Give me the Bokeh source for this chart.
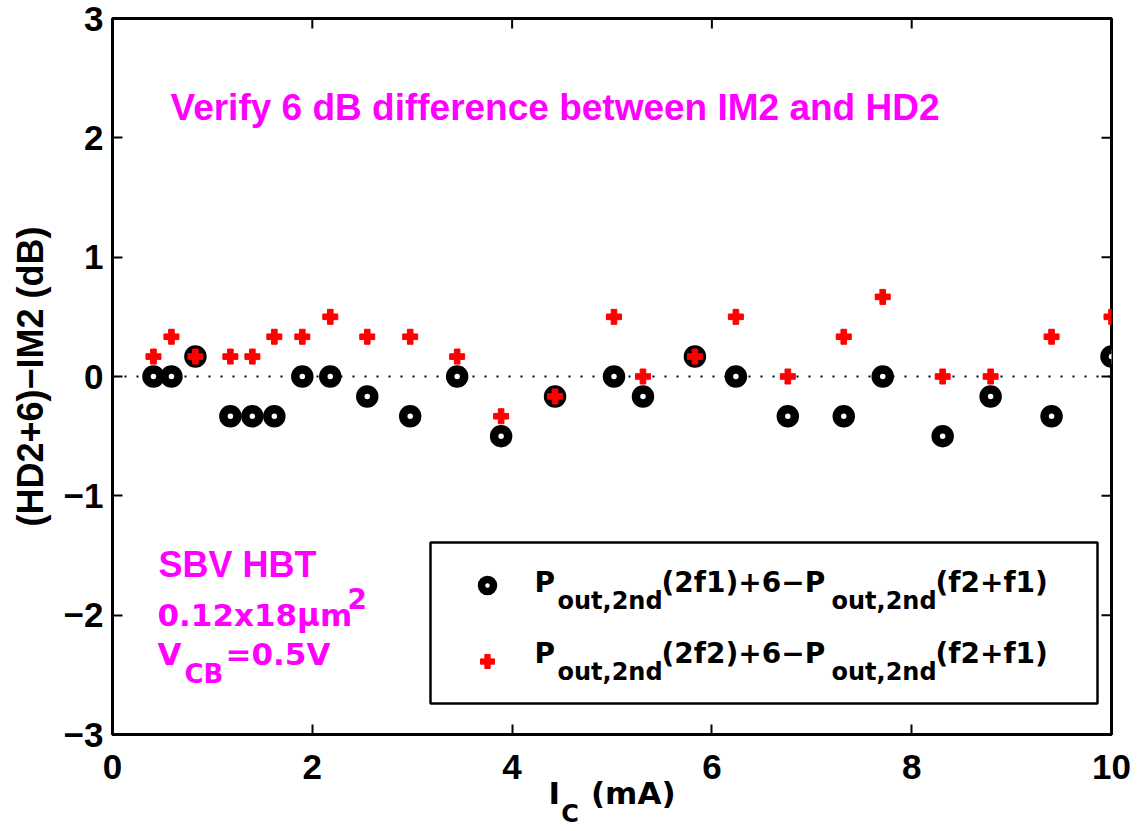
from bokeh.plotting import figure
from bokeh.models import (ColumnDataSource, Label, BoxAnnotation, Span, LinearAxis,
                          FixedTicker, Range1d)
from bokeh.embed import file_html
from bokeh.resources import INLINE

# ---------------- data ----------------
ic_ma = [0.41, 0.59, 0.83, 1.18, 1.40, 1.62, 1.90, 2.18, 2.55, 2.98, 3.45, 3.89,
         4.43, 5.02, 5.31, 5.83, 6.24, 6.76, 7.32, 7.71, 8.31, 8.79, 9.40, 10.0]
diff_2f1 = [0.0, 0.0, 0.167, -0.333, -0.333, -0.333, 0.0, 0.0, -0.167, -0.333, 0.0, -0.5,
            -0.167, 0.0, -0.167, 0.167, 0.0, -0.333, -0.333, 0.0, -0.5, -0.167, -0.333, 0.167]
diff_2f2 = [0.167, 0.333, 0.167, 0.167, 0.167, 0.333, 0.333, 0.5, 0.333, 0.333, 0.167, -0.333,
            -0.167, 0.5, 0.0, 0.167, 0.5, 0.0, 0.333, 0.667, 0.0, 0.0, 0.333, 0.5]
x_ticks = [0, 2, 4, 6, 8, 10]
y_ticks = [-3, -2, -1, 0, 1, 2, 3]
y_tick_labels = {-3: "\u22123", -2: "\u22122", -1: "\u22121", 0: "0", 1: "1", 2: "2", 3: "3"}

# ---------------- layout constants (pixels) ----------------
W, H = 1137, 831
F_LEFT, F_RIGHT, F_TOP, F_BOTTOM = 112, 1111, 18, 734
X0, X1, Y0, Y1 = 0, 10, -3, 3
TICK_PX = 10


def dx(px):
    return X0 + (px - F_LEFT) * (X1 - X0) / (F_RIGHT - F_LEFT)


def dy(py):
    return Y1 - (py - F_TOP) * (Y1 - Y0) / (F_BOTTOM - F_TOP)


ARIAL = "Liberation Sans"
TEXF = "DejaVu Sans"
MAGENTA = "#FF00FF"

p = figure(width=W, height=H, x_range=Range1d(X0, X1), y_range=Range1d(Y0, Y1),
           output_backend="svg", toolbar_location=None,
           min_border_left=F_LEFT, min_border_right=W - F_RIGHT,
           min_border_top=F_TOP, min_border_bottom=H - F_BOTTOM)
p.background_fill_color = "white"
p.border_fill_color = "white"
p.outline_line_color = "black"
p.outline_line_width = 3
p.grid.visible = False

# axes
for ax in (p.xaxis[0], p.yaxis[0]):
    ax.axis_line_width = 3
    ax.major_tick_line_width = 2
    ax.major_tick_in = TICK_PX
    ax.major_tick_out = 0
    ax.minor_tick_line_color = None
    ax.major_label_text_font = ARIAL
    ax.major_label_text_font_style = "bold"
    ax.major_label_text_font_size = "35px"
    ax.major_label_text_color = "black"
xa = p.xaxis[0]
xa.ticker = FixedTicker(ticks=x_ticks)
xa.major_label_standoff = 20
# x-axis label "I_C (mA)": main part here, the subscript on a second bare axis below
xa.axis_label = "I\u2002\u2002(mA)"
xa.axis_label_text_font = TEXF
xa.axis_label_text_font_style = "bold"
xa.axis_label_text_font_size = "31px"
xa.axis_label_text_color = "black"
xa.axis_label_standoff = -7

sub_ax = LinearAxis(ticker=FixedTicker(ticks=[]), axis_line_color=None,
                    major_tick_line_color=None, minor_tick_line_color=None,
                    major_label_standoff=0, major_tick_out=0, minor_tick_out=0,
                    axis_label="C\u2003\u2003\u2003\u2002",
                    axis_label_text_font=TEXF, axis_label_text_font_style="bold",
                    axis_label_text_font_size="24px", axis_label_text_color="black",
                    axis_label_standoff=-14)
p.add_layout(sub_ax, "below")

ya = p.yaxis[0]
ya.ticker = FixedTicker(ticks=y_ticks)
ya.major_label_overrides = y_tick_labels
ya.major_label_standoff = 9
ya.axis_label = "(HD2+6)\u2212IM2 (dB)"
ya.axis_label_text_font = ARIAL
ya.axis_label_text_font_style = "bold"
ya.axis_label_text_font_size = "36px"
ya.axis_label_text_color = "black"
ya.axis_label_standoff = 10

# inward ticks on the top and right edges of the box
tx = (X1 - X0) * TICK_PX / (F_RIGHT - F_LEFT)
ty = (Y1 - Y0) * TICK_PX / (F_BOTTOM - F_TOP)
p.segment(x0=x_ticks, y0=[Y1] * len(x_ticks), x1=x_ticks, y1=[Y1 - ty] * len(x_ticks),
          line_color="black", line_width=2)
p.segment(x0=[X1] * len(y_ticks), y0=y_ticks, x1=[X1 - tx] * len(y_ticks), y1=y_ticks,
          line_color="black", line_width=2)

# zero reference line
p.add_layout(Span(location=0, dimension="width", line_color="black",
                  line_dash="2 10", line_width=2, level="underlay"))

# legend box (underlay so keys sit on top)
p.add_layout(BoxAnnotation(left=dx(430), right=dx(1097), top=dy(542), bottom=dy(703),
                           fill_color="white", fill_alpha=1.0, line_color="black",
                           line_alpha=1.0, line_width=2.5, level="underlay"))

src = ColumnDataSource(dict(x=ic_ma, a=diff_2f1, b=diff_2f2))
p.scatter("x", "a", source=src, marker="circle", size=14, line_width=8.5,
          line_color="black", fill_color="white")
p.scatter("x", "b", source=src, marker="plus", size=15, line_width=1,
          line_color="red", fill_color="red")

# legend keys
p.scatter([dx(487)], [dy(585)], marker="circle", size=12, line_width=7.5,
          line_color="black", fill_color="white")
p.scatter([dx(487)], [dy(661)], marker="plus", size=14, line_width=1,
          line_color="red", fill_color="red")


def lab(px, py, text, font, size, color="black"):
    p.add_layout(Label(x=dx(px), y=dy(py), text=text, text_font=font,
                       text_font_size=f"{size}px", text_font_style="bold",
                       text_color=color, text_align="left",
                       text_baseline="alphabetic"))


# legend texts
for base, mid in ((582, "(2f1)+6\u2212P"), (653, "(2f2)+6\u2212P")):
    lab(534, base, "P", TEXF, 28)
    lab(557, base + 18, "out,2nd", TEXF, 24)
    lab(661, base, mid, TEXF, 28)
    lab(831, base + 18, "out,2nd", TEXF, 24)
    lab(935, base, "(f2+f1)", TEXF, 28)

# annotations
lab(170, 107, "Verify 6 dB difference between IM2 and HD2", ARIAL, 37, MAGENTA)
lab(158, 564, "SBV HBT", ARIAL, 36, MAGENTA)
lab(157, 614, "0.12x18\u03bcm", TEXF, 31, MAGENTA)
lab(347, 598, "2", TEXF, 28, MAGENTA)
lab(157, 653, "V", TEXF, 31, MAGENTA)
lab(184, 673, "CB", TEXF, 26, MAGENTA)
lab(225, 653, "=0.5V", TEXF, 31, MAGENTA)

open("out.html", "w").write(file_html(p, INLINE))
